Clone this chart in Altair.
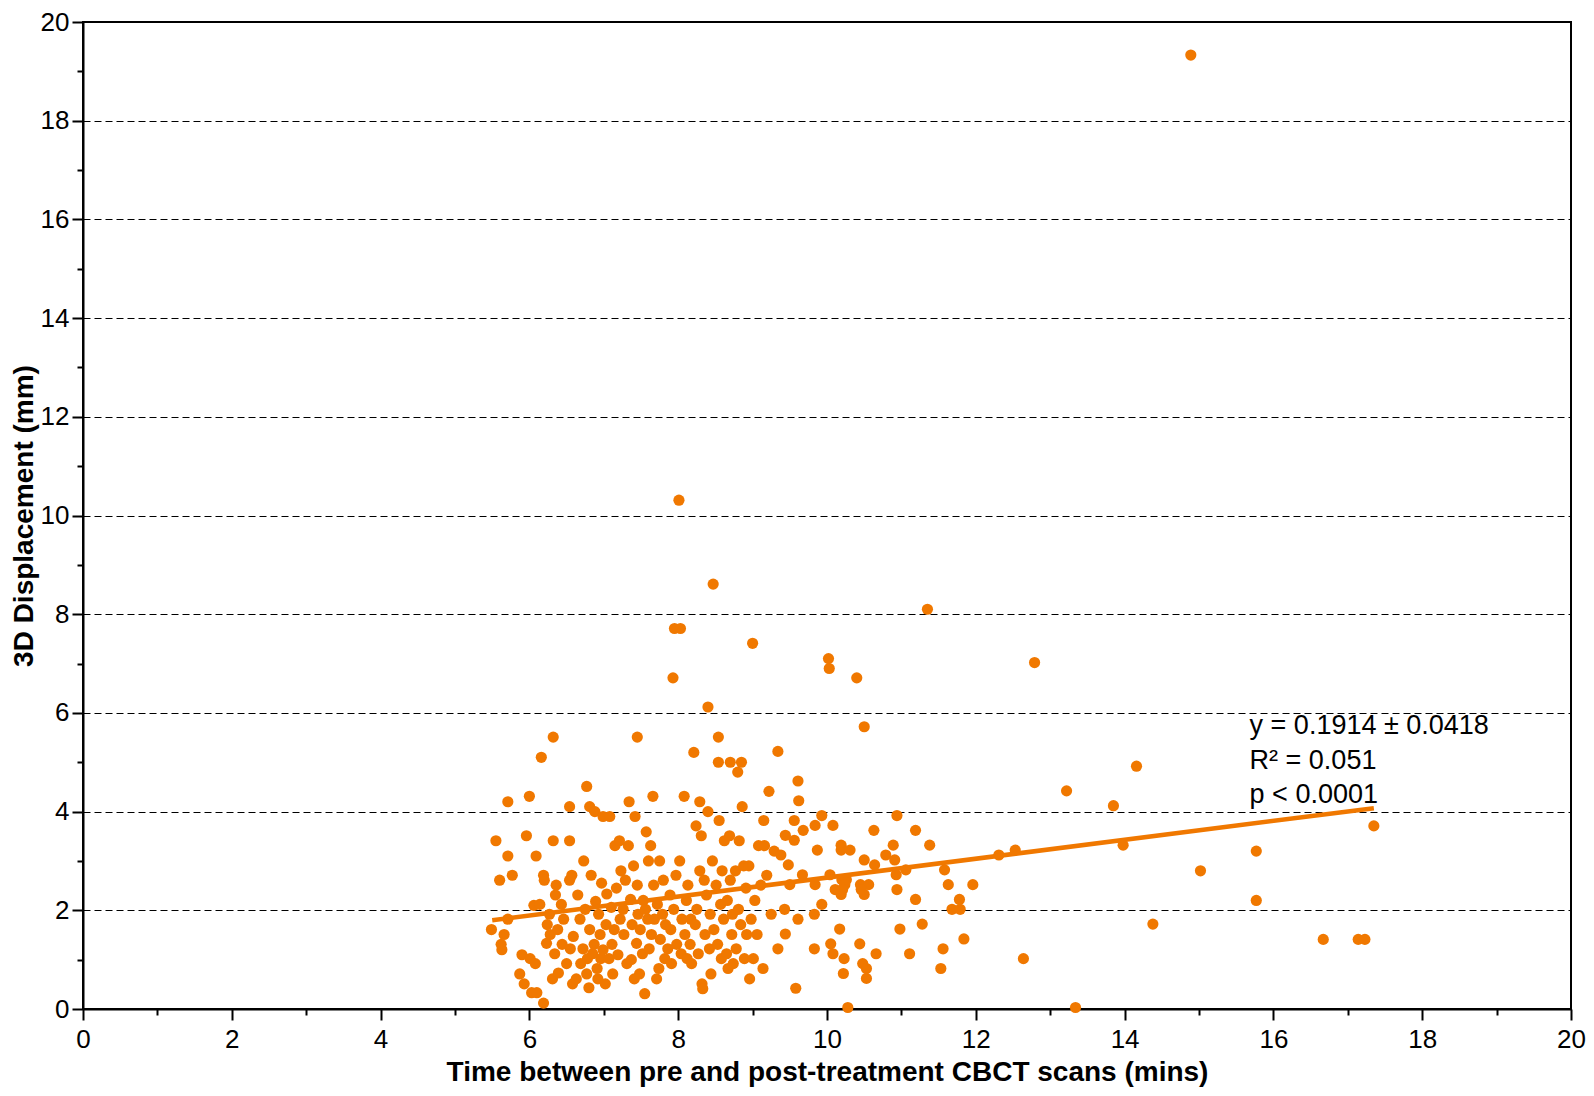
import altair as alt
import pandas as pd

# ---- scatter points (x = minutes, y = 3D displacement mm) ----
band_55 = [(5.49,1.61),(5.55,3.41),(5.60,2.61),(5.62,1.31),(5.63,1.20),(5.66,1.51),(5.71,4.20),(5.71,3.10),
           (5.77,2.71),(5.71,1.82),(5.87,0.71),(5.90,1.10),(5.93,0.51),(5.96,3.51),(6.00,4.31),(6.01,1.02),(6.03,0.33)]
band_60 = [(6.08,0.92),(6.10,0.33),(6.06,2.10),(6.14,2.12),(6.09,3.10),(6.16,5.10),(6.19,2.71),(6.19,0.12),
           (6.20,2.61),(6.23,1.33),(6.24,1.71),(6.27,1.92),(6.28,1.51),(6.31,0.61),(6.32,5.51),(6.32,3.41),
           (6.34,1.12),(6.35,2.31),(6.36,2.51),(6.38,1.61),(6.39,0.73),(6.43,2.12),(6.44,1.31),(6.46,1.82),
           (6.50,0.92),(6.54,4.10),(6.54,3.41),(6.54,2.61),(6.57,2.71),(6.55,1.22),(6.58,0.51),(6.59,1.47)]
band_65 = [(6.63,0.61),(6.65,2.31),(6.68,1.82),(6.69,0.92),(6.72,1.22),(6.73,3.00),(6.75,2.02),(6.77,4.51),
           (6.77,0.71),(6.78,1.02),(6.80,0.43),(6.81,4.10),(6.81,1.61),(6.83,2.71),(6.85,1.12),(6.87,1.31),
           (6.88,4.00),(6.89,2.18),(6.91,0.82),(6.92,0.61),(6.93,1.92),(6.95,1.51),(6.96,1.02),(6.97,2.55),
           (6.99,3.90),(6.99,1.20)]
band_70 = [(7.02,0.51),(7.03,1.71),(7.04,2.33),(7.07,1.02),(7.08,3.90),(7.10,2.06),(7.11,1.31),(7.12,0.71),
           (7.14,1.61),(7.15,3.31),(7.17,2.45),(7.19,1.10),(7.21,3.41),(7.22,1.82),(7.23,2.80),(7.26,2.02),
           (7.27,1.51),(7.29,2.61),(7.31,0.92),(7.33,3.31),(7.34,4.20),(7.36,2.22),(7.37,1.00),(7.38,1.71),
           (7.40,2.90),(7.41,0.61),(7.42,3.90),(7.44,1.33),(7.45,5.51),(7.45,2.51),(7.46,1.92),(7.48,0.71),
           (7.49,1.61)]
band_75 = [(7.52,1.12),(7.53,2.20),(7.55,0.31),(7.56,2.02),(7.57,3.59),(7.59,1.82),(7.60,3.00),(7.61,1.22),
           (7.63,3.31),(7.64,1.51),(7.66,4.31),(7.67,2.51),(7.68,1.82),(7.71,0.61),(7.72,2.12),(7.74,0.82),
           (7.75,3.00),(7.76,1.41),(7.79,1.92),(7.80,2.61),(7.82,1.02),(7.83,1.71),(7.86,1.22),(7.89,2.31),
           (7.90,1.61),(7.93,6.71),(7.91,0.92),(7.94,2.02),(7.95,7.71),(7.97,2.71),(7.98,1.31)]
band_80 = [(8.01,10.31),(8.03,7.71),(8.02,3.00),(8.04,1.12),(8.05,1.82),(8.08,4.31),(8.09,1.51),(8.11,2.20),
           (8.12,1.02),(8.13,2.51),(8.16,1.31),(8.17,1.82),(8.18,0.92),(8.21,5.20),(8.23,1.71),(8.24,3.71),
           (8.25,2.02),(8.27,1.12),(8.29,4.20),(8.29,2.80),(8.31,3.51),(8.32,0.51),(8.33,0.41),(8.35,2.61),
           (8.36,1.51),(8.38,2.31),(8.40,6.12),(8.40,4.00),(8.42,1.22),(8.43,1.92),(8.44,0.71),(8.46,3.00),
           (8.47,8.61),(8.48,1.61)]
band_85 = [(8.51,2.51),(8.53,1.31),(8.54,5.51),(8.54,5.00),(8.55,3.82),(8.57,2.12),(8.58,1.02),(8.59,2.80),
           (8.61,1.82),(8.62,3.41),(8.65,1.12),(8.66,2.20),(8.67,0.82),(8.69,3.51),(8.70,5.00),(8.70,2.61),
           (8.72,1.51),(8.73,1.92),(8.74,0.92),(8.77,2.80),(8.78,1.22),(8.80,4.80),(8.81,2.02),(8.82,3.41),
           (8.84,1.71),(8.85,5.00),(8.86,4.10),(8.88,2.90),(8.89,1.02),(8.91,2.45),(8.92,1.51),(8.95,2.90),
           (8.96,0.61),(8.98,1.82)]
band_90 = [(9.00,7.41),(9.01,1.02),(9.03,2.20),(9.06,1.51),(9.08,3.31),(9.11,2.51),(9.14,0.82),(9.15,3.82),
           (9.16,3.31),(9.19,2.71),(9.22,4.41),(9.25,1.92),(9.29,3.20)]
band_93 = [(9.34,5.22),(10.50,5.72),(9.61,4.62),(9.62,4.22),(9.56,3.82),(9.93,3.92),(9.44,3.52),(9.56,3.42),
           (9.68,3.62),(9.84,3.72),(10.08,3.72),(10.94,3.92),(10.63,3.62),(11.19,3.62),(11.38,3.32),(9.38,3.12),
           (9.48,2.92),(9.87,3.22),(10.19,3.32),(10.19,3.22),(10.31,3.22),(10.89,3.32),(10.79,3.12),(10.91,3.02),
           (10.50,3.02),(10.64,2.92),(10.93,2.72),(11.06,2.82),(11.58,2.82),(9.67,2.72),(9.50,2.52),(9.84,2.52),
           (10.04,2.72),(10.11,2.42),(10.20,2.62),(10.26,2.62),(10.24,2.52),(10.21,2.42),(10.19,2.32),(10.45,2.52),
           (10.56,2.52),(10.50,2.32),(10.46,2.42),(9.93,2.12),(10.94,2.42),(11.19,2.22),(11.63,2.52),(11.78,2.22),
           (11.68,2.02),(11.79,2.02),(11.96,2.52),(9.43,2.02),(9.83,1.92),(9.61,1.82),(10.17,1.62),(9.44,1.52),
           (10.98,1.62),(11.28,1.72),(9.34,1.22),(9.83,1.22),(10.05,1.32),(10.08,1.12),(10.23,1.02),(10.22,0.72),
           (10.44,1.32),(10.48,0.92),(10.53,0.82),(10.53,0.62),(10.66,1.12),(11.11,1.12),(11.53,0.82),(11.56,1.22),
           (11.84,1.42),(9.58,0.42),(10.28,0.03)]
band_tail = [(10.02,7.10),(10.03,6.90),(10.40,6.71),(11.35,8.10),(12.79,7.02),(12.31,3.12),(12.53,3.22),
             (12.64,1.02),(13.22,4.42),(13.34,0.03),(13.85,4.12),(13.98,3.32),(14.16,4.92),(14.38,1.72),
             (14.89,19.33),(15.02,2.80),(15.77,3.20),(15.77,2.20),(16.67,1.41),(17.14,1.41),(17.23,1.41),
             (17.35,3.71)]

# ---- regression line end points ----
fit_x = [5.5, 17.35]
fit_y = [1.80, 4.07]

# ---- annotation ----
ann_text = ["y = 0.1914 \u00b1 0.0418", "R\u00b2 = 0.051", "p < 0.0001"]
ann_x = [15.68, 15.68, 15.68]
ann_y = [5.73, 5.02, 4.34]

axis_ticks = list(range(0, 21))

ORANGE = "#F07800"
FONT = "Liberation Sans"

pts = band_55 + band_60 + band_65 + band_70 + band_75 + band_80 + band_85 + band_90 + band_93 + band_tail
df = pd.DataFrame(pts, columns=["x", "y"])
fit_df = pd.DataFrame({"x": fit_x, "y": fit_y})
ann_df = pd.DataFrame({"x": ann_x, "y": ann_y, "t": ann_text})

xscale = alt.Scale(domain=[0, 20], nice=False)
yscale = alt.Scale(domain=[0, 20], nice=False)

even_test = "datum.value % 2 === 0"
xaxis = alt.Axis(
    values=axis_ticks,
    format="d",
    labelExpr="datum.value % 2 === 0 ? datum.label : ''",
    tickSize={"condition": {"test": even_test, "value": 11}, "value": 6},
    grid=False,
    labelPadding=6,
    labelOverlap=False,
    labelFlush=False,
    titlePadding=6,
    title="Time between pre and post-treatment CBCT scans (mins)",
)
yaxis = alt.Axis(
    values=axis_ticks,
    format="d",
    labelExpr="datum.value % 2 === 0 ? datum.label : ''",
    tickSize={"condition": {"test": even_test, "value": 11}, "value": 6},
    grid=True,
    gridOpacity={"condition": {"test": "datum.value % 2 === 0 && datum.value > 0 && datum.value < 20", "value": 1}, "value": 0},
    labelPadding=3,
    labelOverlap=False,
    labelFlush=False,
    titlePadding=2,
    title="3D Displacement (mm)",
)

points = alt.Chart(df).mark_circle(size=125, color=ORANGE, opacity=1).encode(
    x=alt.X("x:Q", scale=xscale, axis=xaxis),
    y=alt.Y("y:Q", scale=yscale, axis=yaxis),
)
line = alt.Chart(fit_df).mark_line(color=ORANGE, strokeWidth=4.5).encode(
    x=alt.X("x:Q", scale=xscale),
    y=alt.Y("y:Q", scale=yscale),
)
text = alt.Chart(ann_df).mark_text(align="left", baseline="middle", fontSize=27, font=FONT, color="black").encode(
    x=alt.X("x:Q", scale=xscale),
    y=alt.Y("y:Q", scale=yscale),
    text="t:N",
)

chart = alt.layer(points, line, text).properties(
    width=1488, height=987,
    padding={"left": 75, "top": 14, "right": 15, "bottom": 78},
    autosize="none",
).configure_view(
    stroke="black", strokeWidth=2
).configure_axis(
    domainColor="black", domainWidth=2, tickColor="black", tickWidth=2,
    labelFont=FONT, labelFontSize=26, labelColor="black",
    titleFont=FONT, titleFontSize=28, titleFontWeight="bold", titleColor="black",
    gridColor="black", gridDash=[7, 4], gridWidth=1,
)

chart.save("out.html", embed_options={"renderer": "svg", "actions": False})
